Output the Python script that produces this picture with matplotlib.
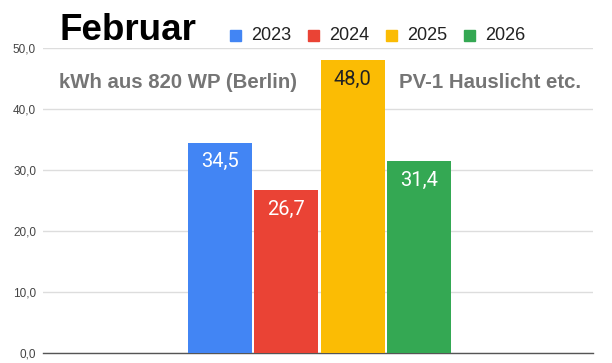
import matplotlib
matplotlib.use("Agg")
import matplotlib.pyplot as plt
from matplotlib.patches import Rectangle

plt.rcParams['font.family'] = ['Liberation Sans', 'DejaVu Sans']

years = ["2023", "2024", "2025", "2026"]
values = [34.5, 26.7, 48.0, 31.4]
colors = ["#4285F4", "#EA4335", "#FBBC04", "#34A853"]
label_colors = ["white", "white", "#222222", "white"]
yticks = [0, 10, 20, 30, 40, 50]
ytick_labels = ["0,0", "10,0", "20,0", "30,0", "40,0", "50,0"]

W, H = 612, 363
fig = plt.figure(figsize=(W/100, H/100), dpi=100)
ax_l, ax_r, ax_b, ax_t = 43, 593, 353, 48
ax = fig.add_axes([ax_l/W, (H-ax_b)/H, (ax_r-ax_l)/W, (ax_b-ax_t)/H])

aw = ax_r - ax_l
width = 64/aw
step = 66.5/aw
xs = [(i - 1.5)*step + 1.5/aw for i in range(4)]
ax.set_xlim(-0.5, 0.5)
ax.set_ylim(0, 50)
for x, v, c, lc in zip(xs, values, colors, label_colors):
    ax.bar(x, v, width=width, color=c, zorder=3)
    ax.text(x, v - 3.1, f"{v:.1f}".replace(".", ","), ha="center", va="center",
            color=lc, fontsize=14.5, family=['Roboto', 'DejaVu Sans'], zorder=4)

ax.set_yticks(yticks)
ax.set_yticklabels(ytick_labels)
ax.tick_params(axis='y', length=0, labelsize=8.5, colors="#444444", pad=5)
ax.set_xticks([])
ax.grid(axis='y', color="#dddddd", linewidth=1, zorder=0)
for s in ["top", "right", "left"]:
    ax.spines[s].set_visible(False)
ax.spines["bottom"].set_color("#555555")
ax.spines["bottom"].set_linewidth(1)

fig.text(59/W, 1 - 30/H, "Februar", fontsize=26.5, fontweight="bold",
         color="black", va="center", ha="left")

# legend
lx = [230, 308, 386, 464]
for x, y, c in zip(lx, years, colors):
    fig.patches.append(Rectangle((x/W, 1 - 41/H), 11/W, 11/H,
                                 transform=fig.transFigure, color=c, figure=fig))
    fig.text((x + 21)/W, 1 - 35/H, y, fontsize=13, color="#222222",
             va="center", ha="left")

fig.text(59/W, 1 - 82/H, "kWh aus 820 WP (Berlin)", fontsize=14.7,
         fontweight="bold", color="#757575", va="center", ha="left")
fig.text(399/W, 1 - 82/H, "PV-1 Hauslicht etc.", fontsize=14.7,
         fontweight="bold", color="#757575", va="center", ha="left")

fig.savefig("out.png", dpi=100)
